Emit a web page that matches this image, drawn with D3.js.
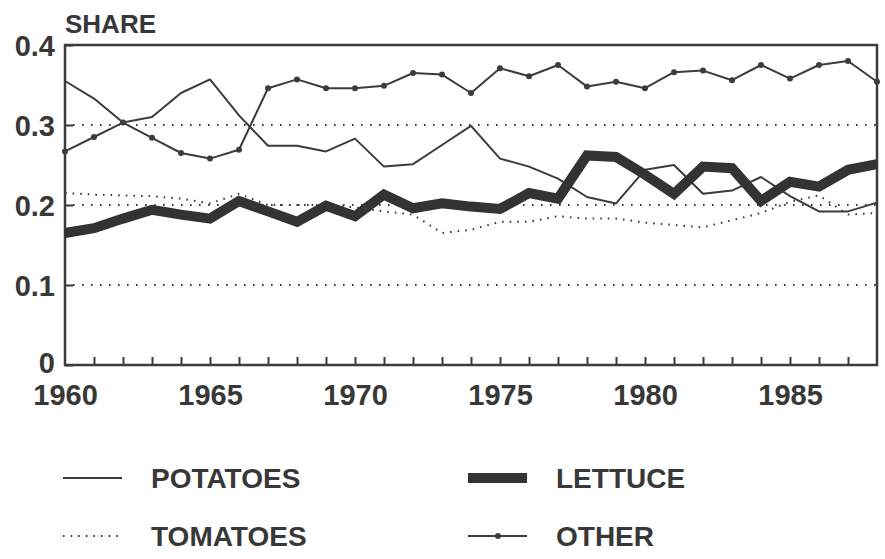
<!DOCTYPE html>
<html>
<head>
<meta charset="utf-8">
<script src="https://cdn.jsdelivr.net/npm/d3@7"></script>
<style>
  body { margin: 0; background: #fff; }
  svg text { font-family: 'Liberation Sans', Arial, sans-serif; font-weight: bold; fill: #383838; }
</style>
</head>
<body>
<div id="chart"></div>
<script>
// Data

var years = d3.range(1960, 1989)

var potatoes = [0.355, 0.333, 0.303, 0.310, 0.340, 0.357, 0.312, 0.274, 0.274, 0.267,
  0.283, 0.248, 0.251, 0.275, 0.299, 0.258, 0.248, 0.233, 0.210, 0.202,
  0.244, 0.250, 0.214, 0.218, 0.235, 0.211, 0.192, 0.192, 0.203]

var lettuce = [0.165, 0.171, 0.183, 0.194, 0.188, 0.183, 0.205, 0.192, 0.179, 0.199,
  0.186, 0.213, 0.196, 0.202, 0.198, 0.195, 0.215, 0.208, 0.262, 0.260,
  0.238, 0.214, 0.248, 0.246, 0.205, 0.229, 0.223, 0.244, 0.251]

var tomatoes = [0.215, 0.213, 0.212, 0.211, 0.208, 0.202, 0.214, 0.200, 0.200, 0.200,
  0.197, 0.192, 0.188, 0.165, 0.169, 0.179, 0.179, 0.186, 0.183, 0.183,
  0.178, 0.175, 0.172, 0.181, 0.190, 0.204, 0.212, 0.188, 0.190]

var other = [0.267, 0.285, 0.303, 0.284, 0.265, 0.258, 0.269, 0.346, 0.357, 0.346,
  0.346, 0.349, 0.365, 0.363, 0.340, 0.371, 0.361, 0.375, 0.348, 0.354,
  0.346, 0.366, 0.368, 0.356, 0.375, 0.358, 0.375, 0.380, 0.354]

var yTicks = [0, 0.1, 0.2, 0.3, 0.4]
var yTickLabels = ['0', '0.1', '0.2', '0.3', '0.4']
var xLabelYears = [1960, 1965, 1970, 1975, 1980, 1985]
var gridValues = [0.1, 0.2, 0.3]

var series = [
  { name: 'POTATOES', values: potatoes, style: 'thin' },
  { name: 'LETTUCE', values: lettuce, style: 'thick' },
  { name: 'TOMATOES', values: tomatoes, style: 'dotted' },
  { name: 'OTHER', values: other, style: 'marked' }
]

// Set up margin/height/width

var margin = { top: 45, left: 65, right: 8, bottom: 194 }
var width = 885 - margin.left - margin.right
var height = 559 - margin.top - margin.bottom
var ink = '#3c3c3c'

var svg = d3
  .select('#chart')
  .append('svg')
  .attr('width', 885)
  .attr('height', 559)
  .append('g')
  .attr('transform', 'translate(' + margin.left + ',' + margin.top + ')')

var xPositionScale = d3.scaleLinear().domain([1960, 1988]).range([0, width])
var yPositionScale = d3.scaleLinear().domain([0, 0.4]).range([height, 0])

// dotted gridlines

svg
  .selectAll('.grid')
  .data(gridValues)
  .enter()
  .append('line')
  .attr('class', 'grid')
  .attr('x1', 8)
  .attr('x2', width)
  .attr('y1', d => yPositionScale(d))
  .attr('y2', d => yPositionScale(d))
  .attr('stroke', ink)
  .attr('stroke-width', 2)
  .attr('stroke-dasharray', '1.6,7.4')

// axes

var yAxis = d3
  .axisLeft(yPositionScale)
  .tickValues(yTicks)
  .tickSize(-8)
  .tickPadding(10)
  .tickFormat((d, i) => yTickLabels[i])

var yAxisG = svg.append('g').attr('class', 'axis y-axis').call(yAxis)
yAxisG.select('.domain').remove()
yAxisG.attr('font-family', null)
yAxisG.selectAll('line').attr('stroke', ink).attr('stroke-width', 2)
yAxisG
  .selectAll('text')
  .attr('font-size', 29)
  .attr('dy', '0.36em')
// the zero label sits a little under its tick
yAxisG.selectAll('.tick').filter(d => d === 0).select('text').attr('dy', '0.26em')

var xTicks = d3
  .axisBottom(xPositionScale)
  .tickValues(years.slice(1, -1))
  .tickSize(-8)
  .tickFormat('')

var xTickG = svg
  .append('g')
  .attr('class', 'axis x-axis')
  .attr('transform', 'translate(0,' + height + ')')
  .call(xTicks)
xTickG.select('.domain').remove()
xTickG.selectAll('line').attr('stroke', ink).attr('stroke-width', 2)

var xLabels = d3
  .axisBottom(xPositionScale)
  .tickValues(xLabelYears)
  .tickSize(0)
  .tickPadding(19.5)
  .tickFormat(d => d)

var xLabelG = svg
  .append('g')
  .attr('class', 'axis x-labels')
  .attr('transform', 'translate(0,' + height + ')')
  .call(xLabels)
xLabelG.select('.domain').remove()
xLabelG.attr('font-family', null)
xLabelG.selectAll('text').attr('font-size', 29).attr('dy', '0.72em')

// frame

svg
  .append('rect')
  .attr('x', 0)
  .attr('y', 0)
  .attr('width', width)
  .attr('height', height)
  .attr('fill', 'none')
  .attr('stroke', ink)
  .attr('stroke-width', 2.5)

// lines

var line = d3
  .line()
  .x((d, i) => xPositionScale(years[i]))
  .y(d => yPositionScale(d))

function styleLine(sel, style) {
  sel.attr('fill', 'none').attr('stroke', ink)
  if (style === 'thick') {
    sel.attr('stroke-width', 10).attr('stroke-linejoin', 'miter').attr('stroke', '#333')
  } else if (style === 'dotted') {
    sel.attr('stroke-width', 2).attr('stroke-dasharray', '1.6,6')
  } else {
    sel.attr('stroke-width', 2).attr('stroke-linejoin', 'round')
  }
}

series.forEach(s => {
  svg
    .append('path')
    .datum(s.values)
    .attr('class', 'line-' + s.name.toLowerCase())
    .attr('d', line)
    .call(styleLine, s.style)
})

svg
  .selectAll('.other-dot')
  .data(other)
  .enter()
  .append('circle')
  .attr('class', 'other-dot')
  .attr('cx', (d, i) => xPositionScale(years[i]))
  .attr('cy', d => yPositionScale(d))
  .attr('r', 3)
  .attr('fill', ink)

// title

svg
  .append('text')
  .text('SHARE')
  .attr('x', 0)
  .attr('y', -12)
  .attr('font-size', 26)

// legend

var legend = svg
  .selectAll('.legend')
  .data(series)
  .enter()
  .append('g')
  .attr('class', 'legend')
  .attr('transform', (d, i) => {
    var col = i % 2
    var row = Math.floor(i / 2)
    return 'translate(' + (col * 405) + ',' + (433 + row * 58) + ')'
  })

legend
  .append('line')
  .attr('x1', -2)
  .attr('x2', 57)
  .attr('y1', 0)
  .attr('y2', 0)
  .each(function(d) {
    d3.select(this).call(styleLine, d.style)
  })

legend
  .filter(d => d.style === 'marked')
  .append('circle')
  .attr('cx', 28)
  .attr('cy', 0)
  .attr('r', 3)
  .attr('fill', ink)

legend
  .append('text')
  .text(d => d.name)
  .attr('x', 86)
  .attr('y', 0)
  .attr('dy', '0.36em')
  .attr('font-size', 28)
</script>
</body>
</html>
